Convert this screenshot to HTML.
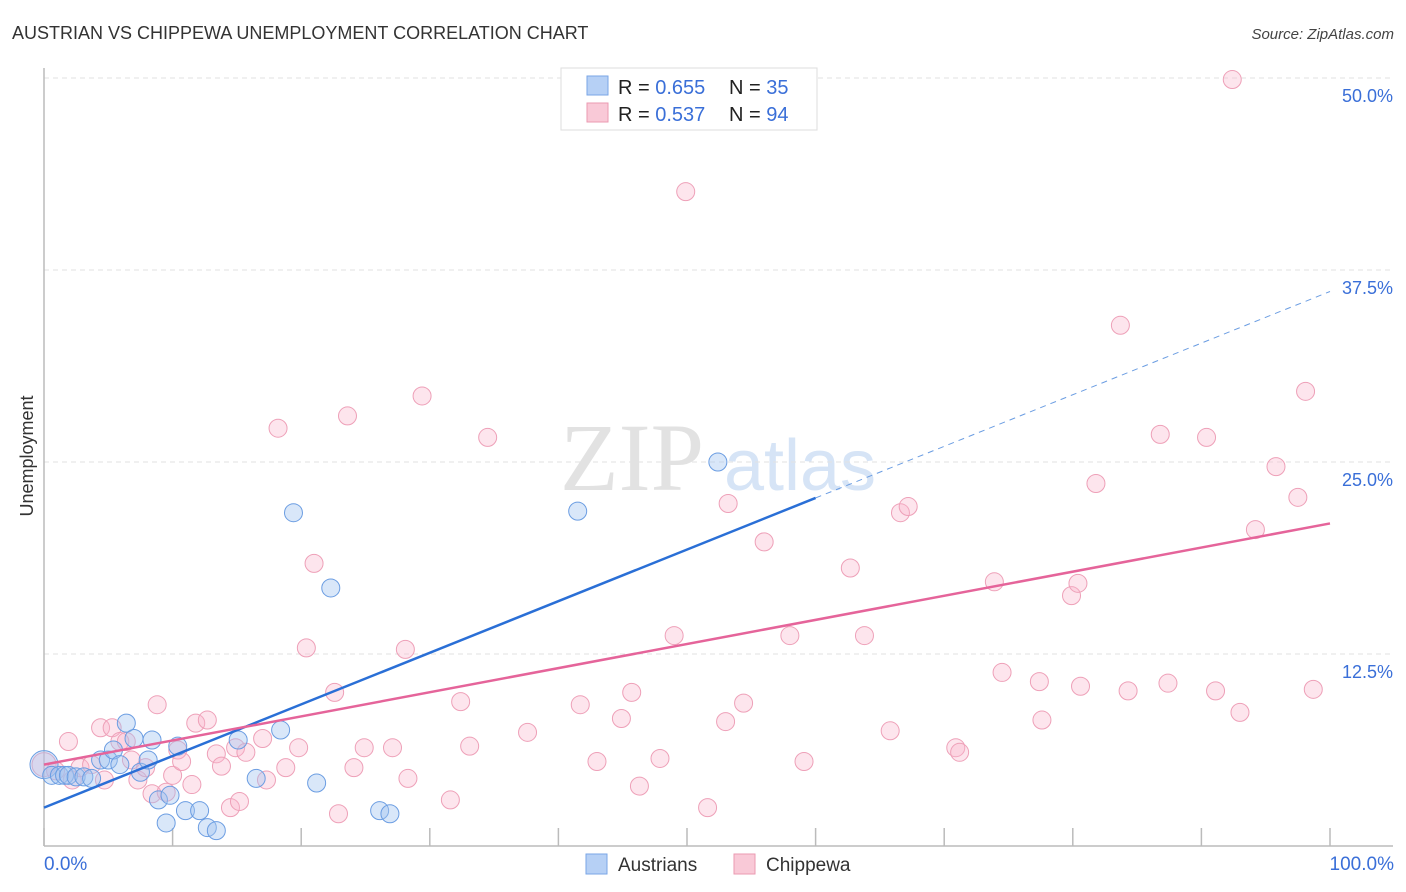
<!DOCTYPE html>
<html><head><meta charset="utf-8"><style>
body{margin:0;background:#fff;font-family:"Liberation Sans",sans-serif}
svg{display:block}
</style></head><body>
<svg id="chart" width="1406" height="892" font-family="Liberation Sans, sans-serif">
<text x="12" y="39" font-size="18" fill="#333">AUSTRIAN VS CHIPPEWA UNEMPLOYMENT CORRELATION CHART</text>
<text x="1394" y="39" font-size="15" fill="#444" font-style="italic" text-anchor="end">Source: ZipAtlas.com</text>
<text x="632" y="490" font-size="96" fill="#e2e2e2" font-family="Liberation Serif, serif" text-anchor="middle">ZIP</text>
<text x="800" y="490" font-size="72" fill="#d6e4f6" text-anchor="middle">atlas</text>
<text transform="translate(33,456) rotate(-90)" font-size="18" fill="#333" text-anchor="middle">Unemployment</text>
<g id="grid"></g><g id="ticks"></g><g id="pts"></g><g id="lines"></g>
<g>
<rect x="561" y="68" width="256" height="62" fill="#fff" stroke="#ddd"/>
<rect x="587" y="76" width="21" height="19" fill="#b6d0f5" stroke="#7aa6e6"/>
<rect x="587" y="103" width="21" height="19" fill="#f9c9d7" stroke="#eb9ab2"/>
<text x="618" y="94" font-size="20" fill="#222">R = <tspan fill="#3a6fd8">0.655</tspan><tspan x="729">N = </tspan><tspan fill="#3a6fd8">35</tspan></text>
<text x="618" y="121" font-size="20" fill="#222">R = <tspan fill="#3a6fd8">0.537</tspan><tspan x="729">N = </tspan><tspan fill="#3a6fd8">94</tspan></text>
</g>
<g>
<rect x="586" y="854" width="21" height="20" fill="#b6d0f5" stroke="#7aa6e6"/>
<text x="618" y="871" font-size="19" fill="#333">Austrians</text>
<rect x="734" y="854" width="21" height="20" fill="#f9c9d7" stroke="#eb9ab2"/>
<text x="766" y="871" font-size="19" fill="#333">Chippewa</text>
</g>
<text x="44" y="870" font-size="19" fill="#3a6fd8">0.0%</text>
<text x="1394" y="870" font-size="19" fill="#3a6fd8" text-anchor="end">100.0%</text>
</svg>
<script>
const yTicks=[12.5,25,37.5,50];
const yTickLabels=["12.5%","25.0%","37.5%","50.0%"];
const xTicks=[0,10,20,30,40,50,60,70,80,90,100];
const blueX=[0,0.6,1.2,1.6,1.9,2.5,3.1,3.7,4.4,5.0,5.4,5.9,6.4,7.0,7.5,8.1,8.4,8.9,9.5,9.8,10.4,11.0,12.1,12.7,13.4,15.1,16.5,18.4,19.4,21.2,22.3,26.1,26.9,41.5,52.4];
const blueY=[5.3,4.6,4.6,4.6,4.6,4.5,4.5,4.4,5.6,5.6,6.25,5.3,8.0,7.0,4.8,5.6,6.9,3.0,1.5,3.3,6.5,2.3,2.3,1.2,1.0,6.9,4.4,7.55,21.7,4.1,16.8,2.3,2.1,21.8,25.0];
const pinkX=[0,0.9,1.9,2.2,2.8,3.7,4.4,4.7,5.3,5.9,6.4,6.8,7.3,7.9,8.4,8.8,9.5,10.0,10.4,10.7,11.5,11.8,12.7,13.4,13.8,14.5,14.9,15.2,15.7,17.0,17.3,18.2,18.8,19.8,20.4,21.0,22.6,22.9,23.6,24.1,24.9,27.1,28.1,28.3,29.4,31.6,32.4,33.1,34.5,37.6,41.7,43.0,44.9,45.7,46.3,47.9,49.0,49.9,51.6,53.0,53.2,54.4,56.0,58.0,59.1,62.7,63.8,65.8,66.6,67.2,70.9,71.2,73.9,74.5,77.4,77.6,79.9,80.4,80.6,81.8,83.7,84.3,86.8,87.4,90.4,91.1,93.0,92.4,94.2,95.8,97.5,98.1,98.7];
const pinkY=[5.3,4.9,6.8,4.3,5.1,5.3,7.7,4.3,7.7,6.8,6.8,5.6,4.3,5.1,3.4,9.2,3.5,4.6,6.25,5.5,4.0,8.0,8.2,6.0,5.2,2.5,6.4,2.9,6.1,7.0,4.3,27.2,5.1,6.4,12.9,18.4,10.0,2.1,28.0,5.1,6.4,6.4,12.8,4.4,29.3,3.0,9.4,6.5,26.6,7.4,9.2,5.5,8.3,10.0,3.9,5.7,13.7,42.6,2.5,8.1,22.3,9.3,19.8,13.7,5.5,18.1,13.7,7.5,21.7,22.1,6.4,6.1,17.2,11.3,10.7,8.2,16.3,17.1,10.4,23.6,33.9,10.1,26.8,10.6,26.6,10.1,8.7,49.9,20.6,24.7,22.7,29.6,10.2];
const blueTrend=[2.5,0.336];
const pinkTrend=[5.3,0.157];
const NS="http://www.w3.org/2000/svg";
const X0=44,X1=1330,Y0=846,PXY=15.36;
function sx(v){return X0+(X1-X0)*v/100;}
function sy(v){return Y0-v*PXY;}
function mk(tag,attrs,parent){const e=document.createElementNS(NS,tag);for(const k in attrs)e.setAttribute(k,attrs[k]);parent.appendChild(e);return e;}
const grid=document.getElementById('grid'),ticks=document.getElementById('ticks'),pts=document.getElementById('pts'),lines=document.getElementById('lines');
yTicks.forEach((t,i)=>{
 const l=mk('line',{x1:X0,x2:1393,y1:sy(t),y2:sy(t),stroke:'#e2e2e2','stroke-dasharray':'5,4'},grid);
 
 
 const tx=mk('text',{x:1393,y:sy(t)+24,'font-size':18,fill:'#3a6fd8','text-anchor':'end'},grid);
 tx.textContent=yTickLabels[i];
 
 
});
const ax=mk('line',{x1:X0,x2:1393,y1:Y0,y2:Y0,stroke:'#bbb','stroke-width':1.5},ticks);


const ay=mk('line',{x1:X0,x2:X0,y1:68,y2:Y0,stroke:'#bbb','stroke-width':1.5},ticks);


xTicks.forEach(t=>{
 const l=mk('line',{x1:sx(t),x2:sx(t),y1:Y0-18,y2:Y0,stroke:'#bbb','stroke-width':1.5},ticks);
 
 
});
pinkX.forEach((x,i)=>{
 const c=mk('circle',{cx:sx(x),cy:sy(pinkY[i]),r:i===0?12:9,fill:'rgba(248,180,202,0.35)',stroke:'#eea0b8','stroke-width':1},pts);
 
 
});
blueX.forEach((x,i)=>{
 const c=mk('circle',{cx:sx(x),cy:sy(blueY[i]),r:i===0?14:9,fill:'rgba(160,196,240,0.4)',stroke:'#6b9de2','stroke-width':1},pts);
 
 
});
const bl=mk('line',{x1:sx(0),y1:sy(blueTrend[0]),x2:sx(60),y2:sy(blueTrend[0]+blueTrend[1]*60),stroke:'#2a6fd6','stroke-width':2.5},lines);


const bd=mk('line',{x1:sx(60),y1:sy(blueTrend[0]+blueTrend[1]*60),x2:sx(100),y2:sy(blueTrend[0]+blueTrend[1]*100),stroke:'#6b9de2','stroke-width':1,'stroke-dasharray':'6,5'},lines);


const pl=mk('line',{x1:sx(0),y1:sy(pinkTrend[0]),x2:sx(100),y2:sy(pinkTrend[0]+pinkTrend[1]*100),stroke:'#e5649a','stroke-width':2.5},lines);


</script>
</body></html>
